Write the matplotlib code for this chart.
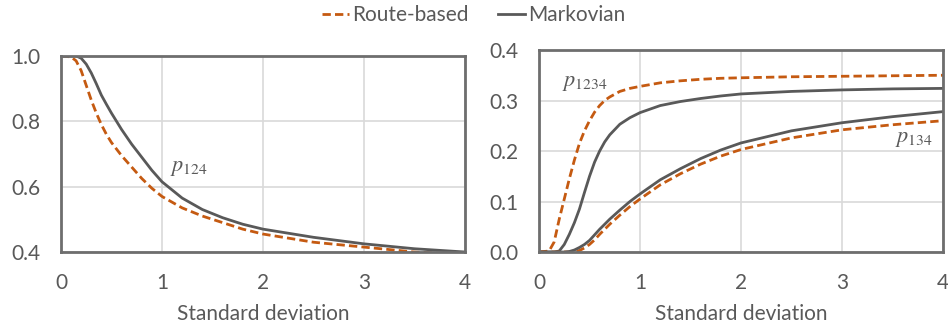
import matplotlib.pyplot as plt

plt.rcParams['font.family'] = ['Lato', 'DejaVu Sans']
plt.rcParams['mathtext.fontset'] = 'stix'

orange = '#C55A11'
gray = '#595959'

# left panel: p124
x_left = [0, 0.1, 0.15, 0.2, 0.25, 0.3, 0.35, 0.4, 0.45, 0.5, 0.6, 0.7, 0.8, 0.9, 1.0, 1.2, 1.4, 1.6,
          1.8, 2.0, 2.5, 3.0, 3.5, 4.0]
route_124 = [1.0, 0.997, 0.985, 0.955, 0.91, 0.865, 0.825, 0.79, 0.76, 0.735, 0.695, 0.66, 0.625,
             0.595, 0.57, 0.535, 0.51, 0.49, 0.47, 0.455, 0.43, 0.415, 0.40, 0.392]
markov_124 = [1.0, 1.0, 1.0, 0.993, 0.975, 0.948, 0.915, 0.88, 0.852, 0.825, 0.775, 0.73, 0.69,
              0.65, 0.615, 0.565, 0.53, 0.505, 0.485, 0.47, 0.445, 0.425, 0.41, 0.40]

# right panel: p1234 and p134
x_right = [0, 0.1, 0.15, 0.2, 0.25, 0.3, 0.35, 0.4, 0.45, 0.5, 0.55, 0.6, 0.65, 0.7, 0.8, 0.9, 1.0,
           1.2, 1.4, 1.6, 1.8, 2.0, 2.5, 3.0, 3.5, 4.0]
route_1234 = [0, 0.002, 0.02, 0.065, 0.105, 0.145, 0.182, 0.215, 0.24, 0.26, 0.277, 0.29, 0.3,
              0.307, 0.318, 0.324, 0.328, 0.335, 0.339, 0.342, 0.344, 0.345, 0.347, 0.348, 0.349, 0.35]
markov_1234 = [0, 0, 0, 0.002, 0.015, 0.035, 0.058, 0.085, 0.118, 0.15, 0.178, 0.2, 0.218, 0.232,
               0.253, 0.266, 0.276, 0.29, 0.298, 0.304, 0.309, 0.313, 0.318, 0.321, 0.323, 0.324]
route_134 = [0, 0, 0, 0, 0, 0, 0.001, 0.003, 0.008, 0.015, 0.024, 0.035, 0.045, 0.055, 0.073, 0.09,
             0.105, 0.133, 0.155, 0.174, 0.19, 0.203, 0.226, 0.242, 0.252, 0.26]
markov_134 = [0, 0, 0, 0, 0, 0.001, 0.004, 0.009, 0.015, 0.023, 0.034, 0.045, 0.055, 0.065, 0.083,
              0.1, 0.115, 0.143, 0.165, 0.185, 0.202, 0.216, 0.24, 0.256, 0.268, 0.278]

fig = plt.figure(figsize=(9.48, 3.29), dpi=100)
ax1 = fig.add_axes([0.0643, 0.234, 0.4262, 0.596])
ax2 = fig.add_axes([0.5686, 0.234, 0.4262, 0.614])

def style(ax, ylim, yticks):
    ax.set_xlim(0, 4)
    ax.set_ylim(*ylim)
    ax.set_xticks([0, 1, 2, 3, 4])
    ax.set_yticks(yticks)
    ax.set_yticklabels(['%.1f' % v for v in yticks])
    ax.grid(True, color='#D9D9D9', linewidth=1.2)
    ax.set_axisbelow(True)
    ax.tick_params(length=0, labelsize=15, labelcolor=gray, pad=15)
    for s in ax.spines.values():
        s.set_color('#6E6E6E')
        s.set_linewidth(2)
    ax.set_xlabel('Standard deviation', fontsize=15, color=gray, labelpad=8)

style(ax1, (0.4, 1.0), [0.4, 0.6, 0.8, 1.0])
style(ax2, (0, 0.4), [0.0, 0.1, 0.2, 0.3, 0.4])

dash = (0, (3, 1.5))
ax1.plot(x_left, route_124, color=orange, lw=2, ls=dash, label='Route-based')
ax1.plot(x_left, markov_124, color=gray, lw=2, label='Markovian')
ax1.text(1.08, 0.657, '$p_{124}$', fontsize=16, color=gray, va='center')

ax2.plot(x_right, route_1234, color=orange, lw=2, ls=dash)
ax2.plot(x_right, markov_1234, color=gray, lw=2)
ax2.plot(x_right, route_134, color=orange, lw=2, ls=dash)
ax2.plot(x_right, markov_134, color=gray, lw=2)
ax2.text(0.23, 0.335, '$p_{1234}$', fontsize=16, color=gray, va='center')
ax2.text(3.52, 0.224, '$p_{134}$', fontsize=16, color=gray, va='center')

h, l = ax1.get_legend_handles_labels()
fig.legend(h, l, loc='center', bbox_to_anchor=(0.5, 0.955), ncol=2, frameon=False,
           fontsize=15, labelcolor=gray, handlelength=1.3, handletextpad=0.15, columnspacing=1.4)

fig.savefig('out.png', dpi=100)
